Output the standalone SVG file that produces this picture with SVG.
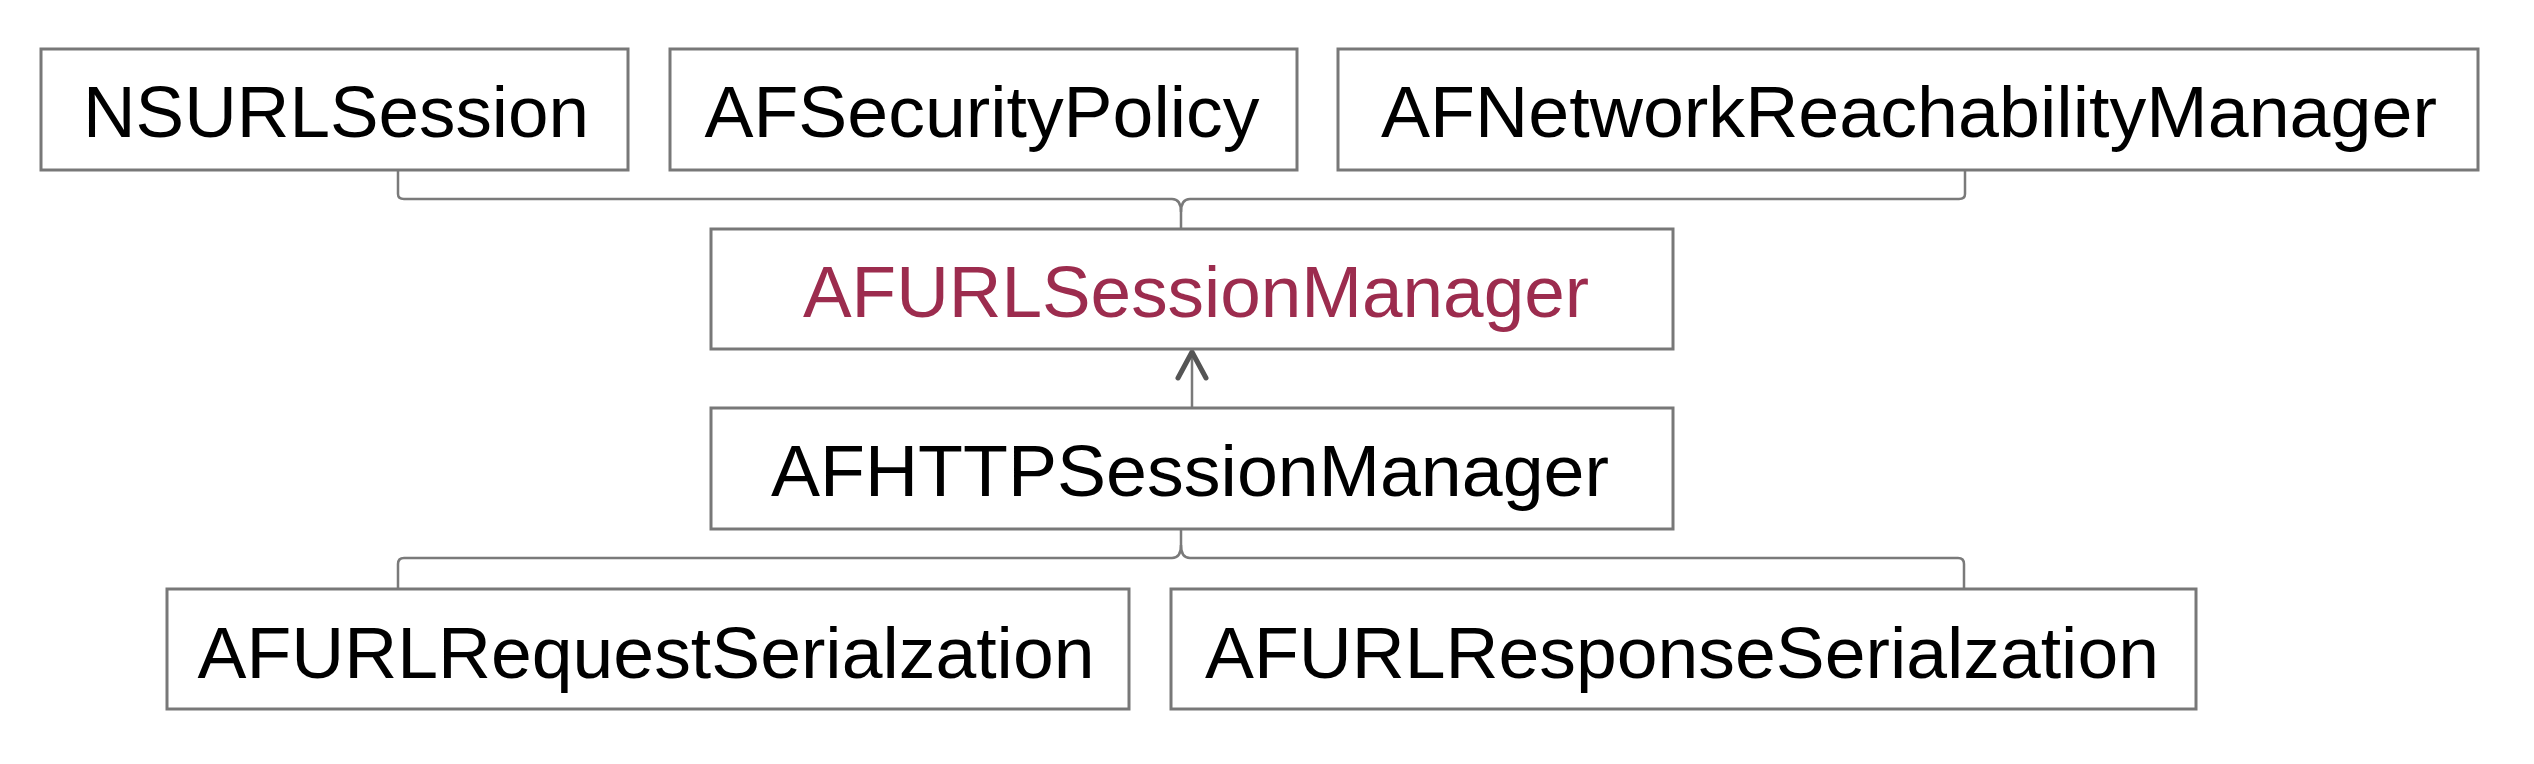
<svg xmlns="http://www.w3.org/2000/svg" width="2534" height="764" viewBox="0 0 2534 764">
  <style>
    .box { fill: #ffffff; stroke: #787878; stroke-width: 3; }
    .lbl { font-family: "Liberation Sans", Arial, Helvetica, sans-serif; font-size: 72px; fill: #000000; text-anchor: middle; }
    .hl { fill: #9C2C4E; }
    .conn { fill: none; stroke: #7a7a7a; stroke-width: 2.5; }
  </style>
  <defs>
    <marker id="openArrow" markerUnits="userSpaceOnUse" markerWidth="40" markerHeight="40" viewBox="-30 -20 40 40" refX="0" refY="0" orient="auto">
      <path d="M-26,-14 L0,0 L-26,14" fill="none" stroke="#555555" stroke-width="5" stroke-linecap="round" stroke-linejoin="round"/>
    </marker>
  </defs>
  <rect width="2534" height="764" fill="#ffffff"/>

  <g id="connectors">
    <path class="conn" d="M398,170 V194 Q398,199 404,199 H1172 Q1181,199 1181,212 V229"/>
    <path class="conn" d="M1965,170 V194 Q1965,199 1959,199 H1190 Q1181,199 1181,212"/>
    <path class="conn" d="M1192,408 V352" marker-end="url(#openArrow)"/>
    <path class="conn" d="M1181,529 V545 Q1181,558 1172,558 H404 Q398,558 398,564 V589"/>
    <path class="conn" d="M1181,545 Q1181,558 1190,558 H1958 Q1964,558 1964,564 V589"/>
  </g>

  <g id="node-nsurlsession">
    <rect class="box" x="41" y="49" width="587" height="121"/>
    <text class="lbl" x="336" y="137" textLength="506" lengthAdjust="spacingAndGlyphs">NSURLSession</text>
  </g>
  <g id="node-afsecuritypolicy">
    <rect class="box" x="670" y="49" width="627" height="121"/>
    <text class="lbl" x="982" y="137" textLength="555" lengthAdjust="spacingAndGlyphs">AFSecurityPolicy</text>
  </g>
  <g id="node-afnetworkreachabilitymanager">
    <rect class="box" x="1338" y="49" width="1140" height="121"/>
    <text class="lbl" x="1909" y="137" textLength="1056" lengthAdjust="spacingAndGlyphs">AFNetworkReachabilityManager</text>
  </g>
  <g id="node-afurlsessionmanager">
    <rect class="box" x="711" y="229" width="962" height="120"/>
    <text class="lbl hl" x="1196" y="317" textLength="786" lengthAdjust="spacingAndGlyphs">AFURLSessionManager</text>
  </g>
  <g id="node-afhttpsessionmanager">
    <rect class="box" x="711" y="408" width="962" height="121"/>
    <text class="lbl" x="1190" y="496" textLength="838" lengthAdjust="spacingAndGlyphs">AFHTTPSessionManager</text>
  </g>
  <g id="node-afurlrequestserialzation">
    <rect class="box" x="167" y="589" width="962" height="120"/>
    <text class="lbl" x="646" y="678" textLength="897" lengthAdjust="spacingAndGlyphs">AFURLRequestSerialzation</text>
  </g>
  <g id="node-afurlresponseserialzation">
    <rect class="box" x="1171" y="589" width="1025" height="120"/>
    <text class="lbl" x="1682" y="678" textLength="954" lengthAdjust="spacingAndGlyphs">AFURLResponseSerialzation</text>
  </g>
</svg>
